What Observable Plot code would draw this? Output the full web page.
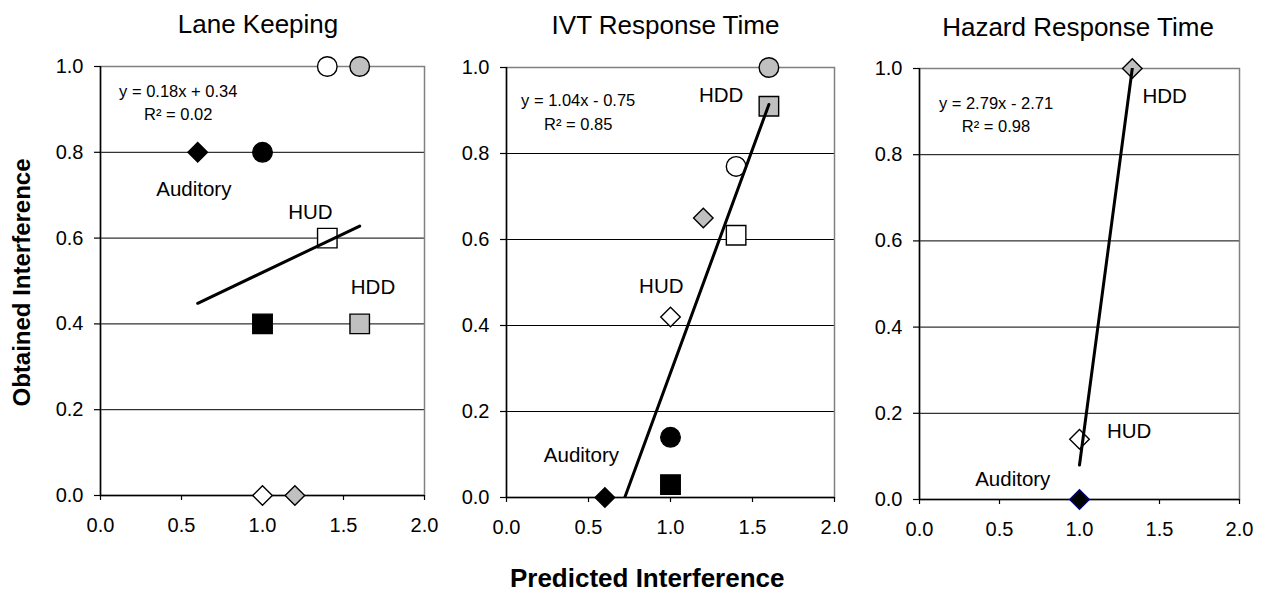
<!DOCTYPE html>
<html>
<head>
<meta charset="utf-8">
<script src="https://cdn.jsdelivr.net/npm/d3@7"></script>
<script src="https://cdn.jsdelivr.net/npm/@observablehq/plot@0.6"></script>
<style>
  body { margin: 0; background: #fff; font-family: "Liberation Sans", Arial, sans-serif; }
  #chart { position: relative; width: 1263px; height: 592px; overflow: hidden; background: #fff; }
  #chart svg { position: absolute; top: 0; }
</style>
</head>
<body>
<div id="chart"></div>
<script>
// ---------------- DATA ----------------
const panelTitles = ["Lane Keeping", "IVT Response Time", "Hazard Response Time"];
const xAxisTitle = "Predicted Interference";
const yAxisTitle = "Obtained Interference";
const xTicks = [0, 0.5, 1.0, 1.5, 2.0];
const yTicks = [0, 0.2, 0.4, 0.6, 0.8, 1.0];

// Lane Keeping
const lkShape     = ["diamond", "diamond", "diamond", "circle", "circle", "circle", "square", "square", "square"];
const lkDisplay   = ["Auditory", "HUD", "HDD", "Auditory", "HUD", "HDD", "Auditory", "HUD", "HDD"];
const lkPredicted = [0.6, 1.0, 1.2, 1.0, 1.4, 1.6, 1.0, 1.4, 1.6];
const lkObtained  = [0.8, 0.0, 0.0, 0.8, 1.0, 1.0, 0.4, 0.6, 0.4];

// IVT Response Time
const ivtShape     = ["diamond", "diamond", "diamond", "circle", "circle", "circle", "square", "square", "square"];
const ivtDisplay   = ["Auditory", "HUD", "HDD", "Auditory", "HUD", "HDD", "Auditory", "HUD", "HDD"];
const ivtPredicted = [0.6, 1.0, 1.2, 1.0, 1.4, 1.6, 1.0, 1.4, 1.6];
const ivtObtained  = [0.0, 0.42, 0.65, 0.14, 0.77, 1.0, 0.03, 0.61, 0.91];

// Hazard Response Time
const hzShape     = ["diamond", "diamond", "diamond"];
const hzDisplay   = ["Auditory", "HUD", "HDD"];
const hzPredicted = [1.0, 1.0, 1.33];
const hzObtained  = [0.0, 0.14, 1.0];

// Trend lines (as printed)
const trendSlope     = [0.18, 1.04, 2.79];
const trendIntercept = [0.34, -0.75, -2.71];
const trendEquation  = ["y = 0.18x + 0.34", "y = 1.04x - 0.75", "y = 2.79x - 2.71"];
const trendR2        = ["R\u00B2 = 0.02", "R\u00B2 = 0.85", "R\u00B2 = 0.98"];

// Display labels per panel (text, anchor in data units)
const lkLabels  = [{text: "Auditory", x: 0.576, y: 0.714}, {text: "HUD", x: 1.296, y: 0.66}, {text: "HDD", x: 1.682, y: 0.486}];
const ivtLabels = [{text: "HDD", x: 1.309, y: 0.934}, {text: "HUD", x: 0.944, y: 0.491}, {text: "Auditory", x: 0.457, y: 0.098}];
const hzLabels  = [{text: "HDD", x: 1.532, y: 0.935}, {text: "HUD", x: 1.31, y: 0.158}, {text: "Auditory", x: 0.583, y: 0.046}];
// Equation anchors in data units
const eqAnchor = [{x: 0.48, y: 0.941, y2: 0.888}, {x: 0.437, y: 0.922, y2: 0.866}, {x: 0.478, y: 0.919, y2: 0.865}];

// ---------------- STYLE / LAYOUT ----------------
const displayFill = {Auditory: "#000000", HUD: "#ffffff", HDD: "#c0c0c0"};
const shapeStyle = {
  diamond: {symbol: "diamond2", r: 8.8},
  circle:  {symbol: "circle",   r: 9.8},
  square:  {symbol: "square",   r: 11}
};
const FONT = "'Liberation Sans', Arial, Helvetica, sans-serif";
const layouts = [
  {left: 100, width: 324, top: 66, bottom: 495, titleY: 24,   titleDx: -4.5, navyAuditory: false},
  {left: 506, width: 328, top: 67, bottom: 497, titleY: 25,   titleDx: -5,   navyAuditory: false},
  {left: 919, width: 320, top: 68, bottom: 499, titleY: 27.5, titleDx: -1.5, navyAuditory: true}
];

function makePoints(shape, display, px, py) {
  return shape.map((s, i) => ({shape: s, display: display[i], x: px[i], y: py[i]}));
}
const panels = [
  {points: makePoints(lkShape, lkDisplay, lkPredicted, lkObtained), labels: lkLabels},
  {points: makePoints(ivtShape, ivtDisplay, ivtPredicted, ivtObtained), labels: ivtLabels},
  {points: makePoints(hzShape, hzDisplay, hzPredicted, hzObtained), labels: hzLabels}
];

const chart = document.getElementById("chart");
const H = 592;

panels.forEach((p, i) => {
  const L = layouts[i];
  const mL = 100, mR = 30;
  const W = mL + L.width + mR;
  const xs = p.points.map(d => d.x);
  const xmin = d3.min(xs), xmax = d3.max(xs);
  const trend = [xmin, xmax].map(x => ({x, y: trendSlope[i] * x + trendIntercept[i]}));

  const dotMarks = Object.keys(shapeStyle).map(shape =>
    Plot.dot(p.points.filter(d => d.shape === shape), {
      x: "x", y: "y",
      symbol: shapeStyle[shape].symbol,
      r: shapeStyle[shape].r,
      fill: d => displayFill[d.display],
      stroke: d => (L.navyAuditory && d.display === "Auditory") ? "#000080" : "#000000",
      strokeWidth: 1.4
    })
  );

  const extra = [];
  if (i === 0) {
    extra.push(Plot.text([yAxisTitle], {
      frameAnchor: "left", text: d => d, rotate: -90,
      textAnchor: "middle", lineAnchor: "middle",
      dx: -78, dy: 1.5, fontSize: 24, fontWeight: "bold", fill: "#000"
    }));
  }
  if (i === 1) {
    extra.push(Plot.text([xAxisTitle], {
      frameAnchor: "bottom", text: d => d,
      textAnchor: "middle", lineAnchor: "middle",
      dx: -23.3, dy: 81, fontSize: 26, fontWeight: "bold", fill: "#000"
    }));
  }

  const svg = Plot.plot({
    width: W, height: H,
    marginLeft: mL, marginRight: mR, marginTop: L.top, marginBottom: H - L.bottom,
    x: {domain: [0, 2]},
    y: {domain: [0, 1]},
    color: {type: "identity"},
    style: {background: "transparent", overflow: "visible", fontFamily: FONT, color: "#000"},
    marks: [
      Plot.ruleY(yTicks.filter(v => v > 0 && v < 1), {stroke: "#000", strokeWidth: 1}),
      Plot.frame({stroke: "#808080", strokeWidth: 1.5}),
      Plot.ruleX([0], {stroke: "#000", strokeWidth: 1.5}),
      Plot.ruleY([0], {stroke: "#000", strokeWidth: 1.5}),
      Plot.axisY({ticks: yTicks, tickFormat: d3.format(".1f"), tickSize: 6, tickPadding: 11,
                  fontSize: 20, label: null, stroke: "#000", fill: "#000", strokeWidth: 1.2}),
      Plot.axisX({ticks: xTicks, tickFormat: d3.format(".1f"), tickSize: 5, tickPadding: 17,
                  fontSize: 20, label: null, stroke: "#000", fill: "#000", strokeWidth: 1.2}),
      ...dotMarks,
      Plot.line(trend, {x: "x", y: "y", stroke: "#000", strokeWidth: 3, clip: true}),
      Plot.text(p.labels, {x: "x", y: "y", text: "text", fontSize: 20.5, fill: "#000"}),
      Plot.text([trendEquation[i]], {x: () => eqAnchor[i].x, y: () => eqAnchor[i].y, text: d => d, fontSize: 16.5, fill: "#000"}),
      Plot.text([trendR2[i]], {x: () => eqAnchor[i].x, y: () => eqAnchor[i].y2, text: d => d, fontSize: 16.5, fill: "#000"}),
      Plot.text([panelTitles[i]], {frameAnchor: "top", text: d => d, textAnchor: "middle", lineAnchor: "middle",
                                   dx: L.titleDx, dy: L.titleY - L.top, fontSize: 26, fill: "#000"}),
      ...extra
    ]
  });
  svg.style.left = (L.left - mL) + "px";
  chart.appendChild(svg);
});
</script>
</body>
</html>
